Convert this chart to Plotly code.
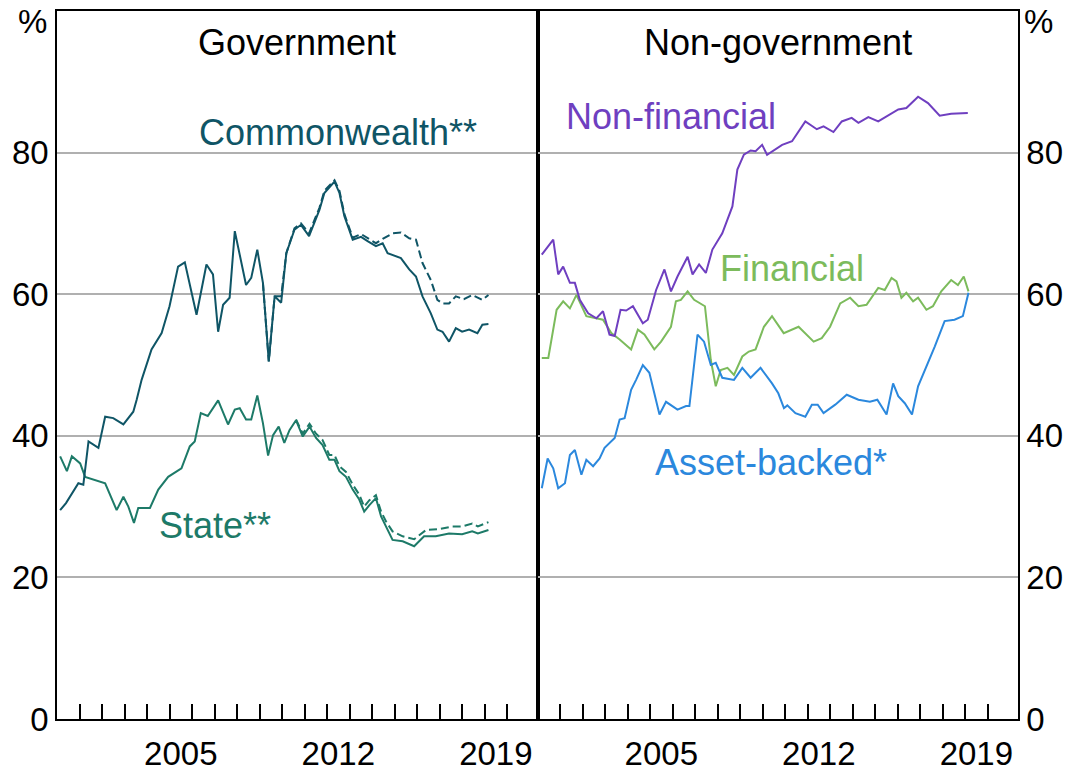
import plotly.graph_objects as go

# ---------------- data ----------------
comm_x = [2000.14, 2000.4, 2000.95, 2001.17, 2001.4, 2001.84, 2002.14, 2002.5, 2002.95, 2003.39,
          2003.54, 2003.76, 2004.2, 2004.65, 2005.0, 2005.38, 2005.68, 2006.2, 2006.64, 2006.93,
          2007.16, 2007.38, 2007.67, 2007.9, 2008.4, 2008.63, 2008.9, 2009.15, 2009.41, 2009.67,
          2009.96, 2010.19, 2010.55, 2010.84, 2011.2, 2011.66, 2011.88, 2012.33, 2012.55, 2012.77,
          2013.14, 2013.51, 2013.8, 2014.17, 2014.47, 2014.69, 2015.28, 2015.65, 2015.95, 2016.24,
          2016.61, 2016.9, 2017.13, 2017.42, 2017.72, 2018.0, 2018.31, 2018.68, 2018.9, 2019.17]
comm_y = [29.5, 30.5, 33.3, 33.1, 39.2, 38.3, 42.7, 42.5, 41.6, 43.4,
          45.1, 47.9, 52.2, 54.5, 58.3, 63.9, 64.5, 57.1, 64.2, 62.8,
          54.7, 58.5, 59.5, 68.9, 61.3, 62.3, 66.3, 61.6, 50.5, 59.7,
          58.8, 65.8, 69.1, 69.8, 68.2, 71.9, 74.3, 75.9, 74.3, 71.0,
          67.7, 68.1, 67.5, 66.8, 67.2, 65.8, 65.1, 63.5, 62.5, 59.7,
          57.3, 55.0, 54.7, 53.3, 55.2, 54.7, 55.0, 54.5, 55.7, 55.8]

comm2_x = [2009.15, 2009.41, 2009.67, 2009.96, 2010.19, 2010.55, 2010.84, 2011.2, 2011.66, 2011.88,
           2012.33, 2012.55, 2012.77, 2013.14, 2013.51, 2013.8, 2014.17, 2014.47, 2014.91, 2015.28,
           2015.65, 2015.95, 2016.24, 2016.61, 2016.9, 2017.13, 2017.42, 2017.72, 2018.08, 2018.45,
           2018.9, 2019.17]
comm2_y = [61.6, 50.5, 59.7, 59.7, 65.8, 69.3, 70.0, 68.6, 72.2, 74.6,
           76.1, 74.6, 71.3, 68.0, 68.5, 67.9, 67.2, 67.8, 68.6, 68.7,
           67.9, 67.7, 64.4, 62.0, 59.2, 58.7, 58.7, 59.7, 59.3, 59.9,
           59.2, 59.9]

state_x = [2000.14, 2000.44, 2000.66, 2001.03, 2001.25, 2001.62, 2002.14, 2002.65, 2002.95, 2003.17,
           2003.42, 2003.61, 2004.13, 2004.5, 2004.94, 2005.53, 2005.9, 2006.12, 2006.39, 2006.7,
           2007.16, 2007.6, 2007.9, 2008.12, 2008.4, 2008.63, 2008.9, 2009.15, 2009.38, 2009.6,
           2009.85, 2010.1, 2010.33, 2010.62, 2010.92, 2011.22, 2011.51, 2011.8, 2012.1, 2012.33,
           2012.55, 2012.84, 2013.14, 2013.43, 2013.65, 2013.88, 2014.17, 2014.4, 2014.62, 2014.91,
           2015.36, 2015.87, 2016.31, 2016.83, 2017.42, 2018.0, 2018.45, 2018.7, 2019.17]
state_y = [37.1, 35.0, 37.1, 36.1, 34.2, 33.8, 33.3, 29.5, 31.4, 30.0,
           27.7, 29.8, 29.8, 32.4, 34.2, 35.4, 38.5, 39.2, 43.2, 42.8,
           45.0, 41.6, 43.7, 43.9, 42.3, 42.3, 45.7, 41.8, 37.2, 40.1,
           41.3, 39.0, 40.8, 42.2, 39.9, 41.3, 39.7, 38.7, 36.6, 36.6,
           35.0, 34.2, 32.4, 31.0, 29.3, 30.2, 31.2, 28.6, 27.2, 25.3,
           25.1, 24.4, 25.8, 25.8, 26.2, 26.1, 26.5, 26.2, 26.7]

state2_x = [2010.62, 2010.92, 2011.22, 2011.51, 2011.8, 2012.1, 2012.33, 2012.55, 2012.84, 2013.14,
            2013.43, 2013.65, 2013.88, 2014.17, 2014.4, 2014.62, 2014.91, 2015.36, 2015.87, 2016.4,
            2016.97, 2017.57, 2018.0, 2018.45, 2018.7, 2019.17]
state2_y = [42.3, 40.3, 41.7, 40.3, 39.4, 37.3, 37.3, 35.7, 34.9, 33.1,
            31.7, 30.0, 30.9, 31.6, 29.3, 27.9, 26.5, 25.8, 25.4, 26.7,
            26.8, 27.2, 27.2, 27.6, 27.2, 27.8]

nonfin_x = [2000.19, 2000.7, 2000.92, 2001.14, 2001.44, 2001.66, 2001.88, 2002.25, 2002.62, 2002.91,
            2003.2, 2003.43, 2003.69, 2003.94, 2004.24, 2004.68, 2004.9, 2005.27, 2005.64, 2005.93,
            2006.22, 2006.67, 2006.89, 2007.18, 2007.48, 2007.77, 2008.21, 2008.66, 2008.88, 2009.17,
            2009.47, 2009.69, 2009.98, 2010.2, 2010.87, 2011.31, 2011.9, 2012.41, 2012.71, 2013.15,
            2013.52, 2013.96, 2014.26, 2014.7, 2015.14, 2015.73, 2016.03, 2016.39, 2016.91, 2017.35,
            2017.87, 2018.38, 2019.12]
nonfin_y = [65.6, 67.7, 62.8, 63.9, 61.6, 61.6, 59.2, 57.3, 56.6, 57.6,
            54.3, 54.1, 57.8, 57.7, 58.3, 55.9, 56.4, 60.6, 63.5, 60.4,
            62.5, 65.3, 62.8, 64.2, 63.0, 66.3, 68.6, 72.4, 77.6, 79.7,
            80.3, 80.2, 81.1, 79.7, 81.1, 81.6, 84.4, 83.3, 83.7, 82.9,
            84.4, 84.9, 84.2, 85.0, 84.4, 85.6, 86.1, 86.3, 87.9, 87.0,
            85.2, 85.5, 85.6]

fin_x = [2000.19, 2000.48, 2000.85, 2001.14, 2001.44, 2001.73, 2002.17, 2002.54, 2002.91, 2003.28,
         2003.65, 2004.16, 2004.46, 2004.75, 2005.19, 2005.49, 2005.93, 2006.15, 2006.37, 2006.67,
         2006.96, 2007.44, 2007.7, 2007.92, 2008.14, 2008.44, 2008.73, 2009.1, 2009.39, 2009.69,
         2010.06, 2010.42, 2010.94, 2011.6, 2012.27, 2012.63, 2013.0, 2013.45, 2013.89, 2014.26,
         2014.62, 2015.14, 2015.43, 2015.73, 2015.95, 2016.17, 2016.39, 2016.69, 2016.91, 2017.28,
         2017.57, 2017.94, 2018.38, 2018.68, 2018.94, 2019.15]
fin_y = [51.0, 51.0, 57.8, 59.0, 58.0, 59.9, 56.9, 56.6, 56.4, 54.5,
         53.6, 52.2, 55.0, 54.3, 52.2, 53.3, 55.4, 59.0, 59.2, 60.4,
         59.2, 58.3, 50.7, 47.0, 49.3, 49.6, 48.6, 51.2, 51.9, 52.2,
         55.4, 56.9, 54.5, 55.4, 53.3, 53.8, 55.4, 58.7, 59.5, 58.3,
         58.5, 60.9, 60.6, 62.3, 61.8, 59.5, 60.2, 59.0, 59.5, 57.8,
         58.3, 60.4, 62.0, 61.3, 62.5, 60.4]

abs_x = [2000.19, 2000.45, 2000.7, 2000.92, 2001.22, 2001.44, 2001.66, 2001.95, 2002.17, 2002.47,
         2002.76, 2002.98, 2003.43, 2003.65, 2003.87, 2004.16, 2004.38, 2004.68, 2004.97, 2005.42,
         2005.71, 2006.22, 2006.6, 2006.75, 2007.11, 2007.4, 2007.7, 2007.92, 2008.21, 2008.73,
         2009.1, 2009.47, 2009.91, 2010.42, 2010.7, 2010.95, 2011.1, 2011.46, 2011.9, 2012.19,
         2012.45, 2012.71, 2013.23, 2013.74, 2014.26, 2014.77, 2015.1, 2015.51, 2015.8, 2016.03,
         2016.32, 2016.64, 2016.91, 2017.28, 2017.65, 2018.09, 2018.53, 2018.9, 2019.09, 2019.15]
abs_y = [32.6, 36.8, 35.4, 32.6, 33.3, 37.3, 38.0, 34.5, 36.6, 35.7,
         36.8, 38.3, 39.7, 42.3, 42.5, 46.5, 47.9, 50.0, 48.9, 43.0,
         44.8, 43.7, 44.2, 44.2, 54.3, 53.3, 50.0, 50.3, 48.2, 47.9,
         49.6, 48.2, 49.6, 47.4, 46.0, 43.9, 44.3, 43.2, 42.7, 44.4,
         44.4, 43.2, 44.4, 45.8, 45.1, 44.8, 45.1, 43.0, 47.4, 45.6,
         44.6, 43.0, 47.0, 49.8, 52.6, 56.2, 56.4, 56.9, 59.7, 60.2]

year_ticks = list(range(2001, 2021))
year_label_pos = [2005.5, 2012.5, 2019.5]
year_labels = ["2005", "2012", "2019"]
y_ticks = [0, 20, 40, 60, 80]

# ---------------- style ----------------
C_COMM = "#0f5566"
C_STATE = "#1d7a68"
C_NONFIN = "#6f3fc0"
C_FIN = "#7cbb5c"
C_ABS = "#2b88dd"
FONT = "Liberation Sans, Arial, sans-serif"
LW = 2
DASH = "8px,4px"

fig = go.Figure()

def add(x, y, color, xa, ya, dash="solid"):
    fig.add_trace(go.Scatter(x=x, y=y, mode="lines", xaxis=xa, yaxis=ya,
                             line=dict(color=color, width=LW, dash=dash),
                             showlegend=False, hoverinfo="skip"))

add(state2_x, state2_y, C_STATE, "x", "y", dash=DASH)
add(state_x, state_y, C_STATE, "x", "y")
add(comm2_x, comm2_y, C_COMM, "x", "y", dash=DASH)
add(comm_x, comm_y, C_COMM, "x", "y")
add(fin_x, fin_y, C_FIN, "x2", "y2")
add(abs_x, abs_y, C_ABS, "x2", "y2")
add(nonfin_x, nonfin_y, C_NONFIN, "x2", "y2")

XR = [2000, 2021.35]

def xaxis(domain, anchor):
    return dict(domain=domain, anchor=anchor, range=XR, showgrid=False, zeroline=False,
                automargin=False,
                showline=True, linecolor="black", linewidth=1.5, mirror=True,
                tickvals=year_label_pos, ticktext=year_labels, ticks="",
                tickfont=dict(size=33, color="black", family=FONT),
                ticklabelstandoff=5,
                minor=dict(tickvals=year_ticks, ticks="inside", ticklen=15,
                           tickcolor="black", tickwidth=1.5, showgrid=False))

def yaxis(anchor, side, standoff):
    return dict(anchor=anchor, side=side, range=[0, 100], tickvals=y_ticks,
                automargin=False,
                showgrid=True, gridcolor="#b0b0b0", gridwidth=1.5, zeroline=False,
                showline=True, linecolor="black", linewidth=1.5, mirror=True, ticks="",
                tickfont=dict(size=33, color="black", family=FONT),
                ticklabelstandoff=standoff)

fig.update_layout(
    width=1066, height=771,
    margin=dict(l=57, r=48, t=11, b=52, autoexpand=False),
    paper_bgcolor="white", plot_bgcolor="white",
    font=dict(family=FONT, color="black"),
    xaxis=xaxis([0, 0.5], "y"),
    xaxis2=xaxis([0.5, 1], "y2"),
    yaxis=yaxis("x", "left", 0),
    yaxis2=yaxis("x2", "right", 0),
    showlegend=False,
)

ann = [
    dict(text="%", x=-0.025, y=0.985, xref="paper", yref="paper", font=dict(size=33)),
    dict(text="%", x=1.021, y=0.985, xref="paper", yref="paper", font=dict(size=33)),
    dict(text="Government", x=0.25, y=0.955, xref="paper", yref="paper", font=dict(size=36)),
    dict(text="Non-government", x=0.75, y=0.955, xref="paper", yref="paper", font=dict(size=36)),
    dict(text="Commonwealth**", x=2012.5, y=82.8, xref="x", yref="y", font=dict(size=36, color=C_COMM)),
    dict(text="State**", x=2007.0, y=27.4, xref="x", yref="y", font=dict(size=36, color=C_STATE)),
    dict(text="Non-financial", x=2005.95, y=85.1, xref="x2", yref="y2", font=dict(size=36, color=C_NONFIN)),
    dict(text="Financial", x=2011.3, y=63.7, xref="x2", yref="y2", font=dict(size=36, color=C_FIN)),
    dict(text="Asset-backed*", x=2010.37, y=36.2, xref="x2", yref="y2", font=dict(size=36, color=C_ABS)),
]
for a in ann:
    a.update(showarrow=False, xanchor="center", yanchor="middle")
    a["font"].setdefault("family", FONT)
    a["font"].setdefault("color", "black")
fig.update_layout(annotations=ann)

fig.write_html("out.html",
               config={"displayModeBar": False},
               post_script="document.body.style.margin='0';document.body.style.overflow='hidden';")
